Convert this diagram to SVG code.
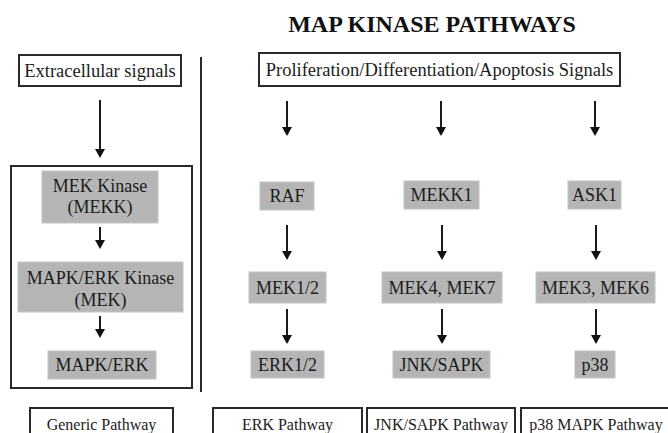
<svg xmlns="http://www.w3.org/2000/svg" width="668" height="433" viewBox="0 0 668 433">
<style>
text{font-family:"Liberation Serif","Times New Roman",serif;fill:#1c1c1c;text-anchor:middle}
.t{font-size:24px;font-weight:bold;fill:#111}
.n{font-size:18px}
.s{font-size:18.5px}
.b{font-size:16px}
.node{fill:#b5b5b5;stroke:#c4c4c4;stroke-width:1}
.frame{fill:#fff;stroke:#2a2a2a;stroke-width:2}
.open{fill:none;stroke:#2a2a2a;stroke-width:2}
.arr{stroke:#1a1a1a;stroke-width:2;fill:none;marker-end:url(#ah)}
</style>
<defs>
<marker id="ah" viewBox="0 0 9 10" refX="5" refY="5" markerWidth="9" markerHeight="10" markerUnits="userSpaceOnUse" orient="auto">
<path d="M0,0 L9,5 L0,10 Z" fill="#111"/>
</marker>
</defs>
<rect width="668" height="433" fill="#fff"/>
<text class="t" x="432" y="32">MAP KINASE PATHWAYS</text>

<line x1="201" y1="57" x2="201" y2="392" stroke="#2a2a2a" stroke-width="2"/>

<g id="generic-frame"><rect class="open" x="11" y="166" width="181" height="222"/></g>

<g id="extracellular"><rect class="frame" x="19" y="55" width="162" height="31"/><text class="s" x="100" y="77">Extracellular signals</text></g>
<g id="signals"><rect class="frame" x="259" y="53" width="361" height="33"/><text class="s" x="439.5" y="76">Proliferation/Differentiation/Apoptosis Signals</text></g>

<g id="mekk"><rect class="node" x="42" y="171" width="116" height="52"/><text class="n" x="100" y="192">MEK Kinase</text><text class="n" x="100" y="213">(MEKK)</text></g>
<g id="mek"><rect class="node" x="18" y="262" width="165" height="50"/><text class="n" x="100.5" y="284">MAPK/ERK Kinase</text><text class="n" x="100.5" y="306">(MEK)</text></g>
<g id="mapk-erk"><rect class="node" x="48" y="351" width="108" height="28"/><text class="n" x="102" y="371">MAPK/ERK</text></g>

<g id="raf"><rect class="node" x="260" y="182" width="54" height="28"/><text class="n" x="287" y="202">RAF</text></g>
<g id="mekk1"><rect class="node" x="404" y="181" width="75" height="28"/><text class="n" x="441.5" y="201">MEKK1</text></g>
<g id="ask1"><rect class="node" x="568" y="181" width="53" height="28"/><text class="n" x="594.5" y="201">ASK1</text></g>

<g id="mek12"><rect class="node" x="249" y="272" width="77" height="31"/><text class="n" x="287.5" y="294">MEK1/2</text></g>
<g id="mek47"><rect class="node" x="382" y="272" width="120" height="31"/><text class="n" x="442" y="294">MEK4, MEK7</text></g>
<g id="mek36"><rect class="node" x="536" y="272" width="119" height="31"/><text class="n" x="595.5" y="294">MEK3, MEK6</text></g>

<g id="erk12"><rect class="node" x="251" y="351" width="73" height="27"/><text class="n" x="287.5" y="371">ERK1/2</text></g>
<g id="jnk"><rect class="node" x="393" y="351" width="97" height="27"/><text class="n" x="441.5" y="371">JNK/SAPK</text></g>
<g id="p38"><rect class="node" x="575" y="351" width="40" height="27"/><text class="n" x="595" y="371">p38</text></g>

<g id="generic-label"><rect class="frame" x="30" y="408" width="143" height="40"/><text class="b" x="101.5" y="430">Generic Pathway</text></g>
<g id="erk-label"><rect class="frame" x="213" y="408" width="149" height="40"/><text class="b" x="287.5" y="430">ERK Pathway</text></g>
<g id="jnk-label"><rect class="frame" x="367" y="408" width="148" height="40"/><text class="b" x="441" y="430">JNK/SAPK Pathway</text></g>
<g id="p38-label"><rect class="frame" x="521" y="408" width="150" height="40"/><text class="b" x="596" y="430">p38 MAPK Pathway</text></g>

<g id="connectors">
<line class="arr" x1="100" y1="100" x2="100" y2="154"/>
<line class="arr" x1="100" y1="227" x2="100" y2="245"/>
<line class="arr" x1="100" y1="316" x2="100" y2="334"/>
<line class="arr" x1="287" y1="101" x2="287" y2="132"/>
<line class="arr" x1="441" y1="101" x2="441" y2="132"/>
<line class="arr" x1="595" y1="101" x2="595" y2="132"/>
<line class="arr" x1="287" y1="225" x2="287" y2="256"/>
<line class="arr" x1="442" y1="225" x2="442" y2="256"/>
<line class="arr" x1="596" y1="225" x2="596" y2="256"/>
<line class="arr" x1="287" y1="309" x2="287" y2="340"/>
<line class="arr" x1="442" y1="309" x2="442" y2="340"/>
<line class="arr" x1="596" y1="309" x2="596" y2="340"/>
</g>
</svg>
